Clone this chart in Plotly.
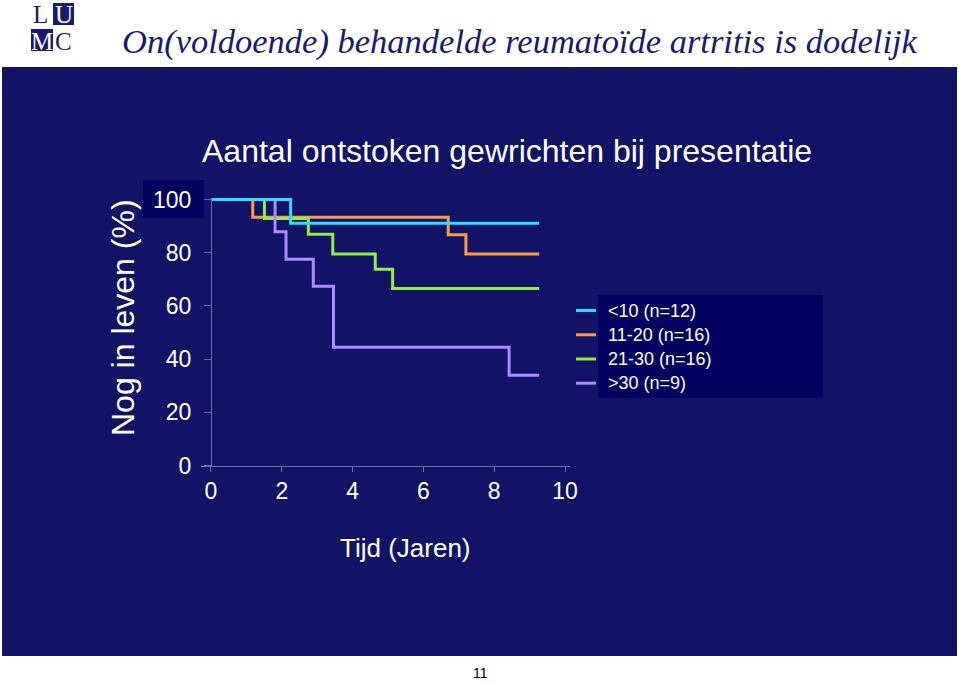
import plotly.graph_objects as go

W, H = 959, 684

# ---- data (Kaplan-Meier steps) ----
series_names = ["<10 (n=12)", "11-20 (n=16)", "21-30 (n=16)", ">30 (n=9)"]
series_colors = ["#2FDCFA", "#FF9A48", "#92EE46", "#AA8CFF"]

t_lt10 = [0, 2.25, 9.27]
s_lt10 = [100, 91.1, 91.1]

t_11_20 = [0, 1.18, 6.70, 7.20, 9.27]
s_11_20 = [100, 93.3, 86.7, 79.5, 79.5]

t_21_30 = [0, 1.51, 2.75, 3.44, 4.64, 5.13, 9.27]
s_21_30 = [100, 92.9, 86.9, 79.5, 73.8, 66.5, 66.5]

t_gt30 = [0, 1.81, 2.12, 2.89, 3.46, 8.42, 9.27]
s_gt30 = [100, 87.9, 77.5, 67.4, 44.5, 33.9, 33.9]

x_ticks = [0, 2, 4, 6, 8, 10]
y_ticks = [0, 20, 40, 60, 80, 100]

title_text = "On(voldoende) behandelde reumatoïde artritis is dodelijk"
subtitle_text = "Aantal ontstoken gewrichten bij presentatie"
x_title = "Tijd (Jaren)"
y_title = "Nog in leven (%)"
page_no = "11"


def px(x):
    return x / W


def py(y):
    return 1 - y / H


SANS = "Arial, Liberation Sans, sans-serif"
SERIF = "Times New Roman, Liberation Serif, serif"
PANEL = "#121266"
BOX = "#00005E"
NAVY = "#1A1A6E"
AXIS = "#6E6E98"

fig = go.Figure()

# draw order: cyan on top
order = [(1, t_11_20, s_11_20), (2, t_21_30, s_21_30), (3, t_gt30, s_gt30), (0, t_lt10, s_lt10)]
for idx, tx, sy in order:
    fig.add_trace(go.Scatter(
        x=tx, y=sy, mode="lines", line_shape="hv",
        line=dict(color=series_colors[idx], width=3),
        name=series_names[idx], showlegend=False,
    ))

shapes = [
    dict(type="rect", xref="paper", yref="paper", x0=px(2), x1=px(957), y0=py(656), y1=py(67),
         fillcolor=PANEL, line=dict(width=0), layer="below"),
    dict(type="rect", xref="paper", yref="paper", x0=px(143), x1=px(204), y0=py(218), y1=py(180),
         fillcolor=BOX, line=dict(width=0), layer="below"),
    dict(type="rect", xref="paper", yref="paper", x0=px(598), x1=px(823), y0=py(398), y1=py(295),
         fillcolor=BOX, line=dict(width=0), layer="below"),
    # logo boxes
    dict(type="rect", xref="paper", yref="paper", x0=px(53), x1=px(74), y0=py(25), y1=py(3),
         fillcolor=NAVY, line=dict(width=0), layer="below"),
    dict(type="rect", xref="paper", yref="paper", x0=px(31), x1=px(53), y0=py(51), y1=py(29),
         fillcolor=NAVY, line=dict(width=0), layer="below"),
]


def ann(text, x, y, size, color, family=SANS, xanchor="center", **kw):
    return dict(text=text, x=px(x), y=py(y), xref="paper", yref="paper",
                xanchor=xanchor, yanchor="middle", showarrow=False,
                font=dict(family=family, size=size, color=color, **kw.pop("fontkw", {})), **kw)


annotations = [
    ann(title_text, 520, 42, 34.5, NAVY, family=SERIF, fontkw=dict(style="italic")),
    ann(subtitle_text, 507, 151, 32, "white"),
    ann(y_title, 123, 318, 32, "white", textangle=-90),
    ann(x_title, 405, 548, 26, "white"),
    ann(page_no, 480, 673, 14, "black"),
    ann("L", 40.5, 15, 25, NAVY, family=SERIF),
    ann("U", 63.5, 15, 25, "white", family=SERIF),
    ann("M", 42, 41, 25, "white", family=SERIF),
    ann("C", 63.5, 41, 25, NAVY, family=SERIF),
]

# legend (swatches outside the dark box, as in the reference)
legend_rows = [310.5, 334.8, 359, 383.2]
for name, color, yrow in zip(series_names, series_colors, legend_rows):
    shapes.append(dict(type="line", xref="paper", yref="paper",
                       x0=px(576), x1=px(596), y0=py(yrow), y1=py(yrow),
                       line=dict(color=color, width=3), layer="above"))
    annotations.append(ann(name, 606, yrow, 18, "white", xanchor="left"))

fig.update_layout(
    template="none",
    width=W, height=H,
    margin=dict(l=0, r=0, t=0, b=0, pad=0, autoexpand=False),
    paper_bgcolor="white", plot_bgcolor="rgba(0,0,0,0)",
    shapes=shapes, annotations=annotations,
    showlegend=False,
    xaxis=dict(domain=[px(201.4), px(570)], range=[-0.27, 10.14],
               tickvals=x_ticks, ticktext=[str(v) for v in x_ticks],
               ticks="outside", ticklen=5, tickcolor=AXIS, tickwidth=1,
               showline=True, linecolor=AXIS, linewidth=1,
               showgrid=False, zeroline=False, automargin=False,
               tickfont=dict(family=SANS, size=23, color="white"),
               ticklabelstandoff=0, fixedrange=True),
    yaxis=dict(domain=[py(465.5), py(197.9)], range=[0, 100.6],
               anchor="free", position=px(211),
               tickvals=y_ticks, ticktext=[str(v) for v in y_ticks],
               ticks="outside", ticklen=7, tickcolor=AXIS, tickwidth=1,
               showline=True, linecolor=AXIS, linewidth=1,
               showgrid=False, zeroline=False, automargin=False,
               tickfont=dict(family=SANS, size=23, color="white"),
               ticklabelstandoff=8, fixedrange=True),
)

fig.write_html("out.html", config={"displayModeBar": False},
               post_script="document.body.style.margin='0';")
